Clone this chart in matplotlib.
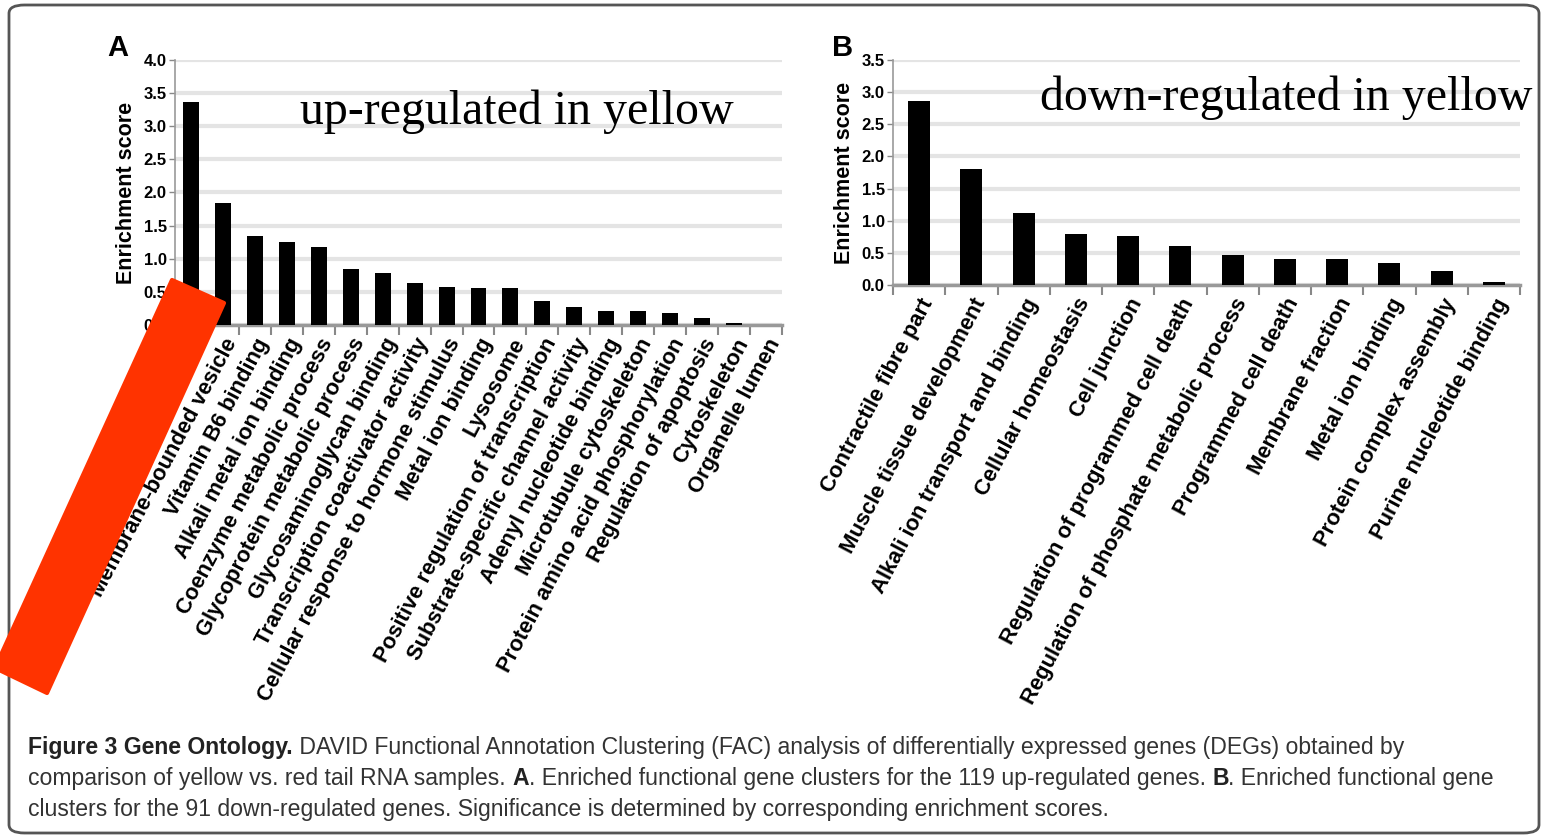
import matplotlib
matplotlib.use("Agg")
import matplotlib.pyplot as plt
import numpy as np
from matplotlib.patches import Polygon, FancyBboxPatch

# Panel A: up-regulated clusters (first label is hidden under the red mark in the source)
labels_a = ['', 'Membrane-bounded vesicle', 'Vitamin B6 binding', 'Alkali metal ion binding',
            'Coenzyme metabolic process', 'Glycoprotein metabolic process',
            'Glycosaminoglycan binding', 'Transcription coactivator activity',
            'Cellular response to hormone stimulus', 'Metal ion binding', 'Lysosome',
            'Positive regulation of transcription', 'Substrate-specific channel activity',
            'Adenyl nucleotide binding', 'Microtubule cytoskeleton',
            'Protein amino acid phosphorylation', 'Regulation of apoptosis',
            'Cytoskeleton', 'Organelle lumen']
scores_a = [3.37, 1.84, 1.35, 1.25, 1.18, 0.84, 0.79, 0.64, 0.58, 0.56, 0.56,
            0.36, 0.27, 0.21, 0.21, 0.18, 0.10, 0.035, 0.005]

# Panel B: down-regulated clusters
labels_b = ['Contractile fibre part', 'Muscle tissue development', 'Alkali ion transport and binding',
            'Cellular homeostasis', 'Cell junction', 'Regulation of programmed cell death',
            'Regulation of phosphate metabolic process', 'Programmed cell death',
            'Membrane fraction', 'Metal ion binding', 'Protein complex assembly',
            'Purine nucleotide binding']
scores_b = [2.86, 1.80, 1.12, 0.79, 0.76, 0.61, 0.46, 0.40, 0.40, 0.345, 0.22, 0.05]

W, H = 1545, 836
fig = plt.figure(figsize=(W / 100, H / 100), dpi=100)
sans = 'Liberation Sans'


def px(x, y):
    return x / W, 1 - y / H


def bar_panel(rect, labels, scores, ymax, width, label_size):
    ax = fig.add_axes(rect)
    n = len(scores)
    x = np.arange(n)
    ax.bar(x, scores, width=width, color='black', zorder=3)
    ax.set_xlim(-0.5, n - 0.5)
    ax.set_ylim(0, ymax)
    ticks = np.arange(0, ymax + 0.01, 0.5)
    ax.set_yticks(ticks)
    ax.set_yticklabels(['%.1f' % t for t in ticks], fontsize=12, fontweight='bold', family=sans)
    ax.yaxis.grid(True, color='#e4e4e4', linewidth=3, zorder=0)
    ax.set_axisbelow(True)
    ax.set_xticks(x)
    ax.set_xticklabels(labels, rotation=62, ha='right', va='top', rotation_mode='anchor',
                       fontsize=label_size, fontweight='bold', family=sans)
    ax.set_xticks(np.arange(n + 1) - 0.5, minor=True)
    ax.tick_params(axis='x', which='major', length=0, pad=7)
    ax.tick_params(axis='x', which='minor', length=7, width=1.5, color='#888888')
    ax.tick_params(axis='y', length=4, width=1, color='#888888', pad=2)
    for s in ['top', 'right']:
        ax.spines[s].set_visible(False)
    ax.spines['left'].set_color('#999999')
    ax.spines['left'].set_linewidth(1.2)
    ax.spines['bottom'].set_color('#999999')
    ax.spines['bottom'].set_linewidth(2.5)
    ax.set_ylabel('Enrichment score', fontsize=15.5, fontweight='bold', family=sans, labelpad=5)
    return ax


ax_a = bar_panel([175 / W, 1 - 325 / H, 607 / W, 265 / H], labels_a, scores_a, 4.0, 0.5, 15.8)
ax_b = bar_panel([893 / W, 1 - 285 / H, 627 / W, 225 / H], labels_b, scores_b, 3.5, 0.42, 15.8)

fig.text(*px(107, 56), 'A', fontsize=21, fontweight='bold', family=sans, va='baseline')
fig.text(*px(832, 56), 'B', fontsize=21, fontweight='bold', family=sans, va='baseline')
fig.text(*px(300, 124), 'up-regulated in yellow', fontsize=34.5, family='Liberation Serif', va='baseline')
fig.text(*px(1040, 110), 'down-regulated in yellow', fontsize=34.5, family='Liberation Serif', va='baseline')

# red mark over the first labels of panel A
red = [(172, 280), (224, 303), (47, 693), (-5, 668)]
fig.patches.append(Polygon([px(a, b) for a, b in red], closed=True, transform=fig.transFigure,
                           facecolor='#ff3300', edgecolor='#ff3300', linewidth=3,
                           joinstyle='round', zorder=10))

# frame round the whole figure
fig.patches.append(FancyBboxPatch((9 / W, 3 / H), 1 - 15 / W, 1 - 8 / H,
                                  boxstyle='round,pad=0,rounding_size=0.01',
                                  transform=fig.transFigure, facecolor='none',
                                  edgecolor='#555555', linewidth=2))

# caption with bold runs
cap_lines = [
    [('Figure 3 Gene Ontology.', 'bold'),
     (' DAVID Functional Annotation Clustering (FAC) analysis of differentially expressed genes (DEGs) obtained by', 'normal')],
    [('comparison of yellow vs. red tail RNA samples. ', 'normal'), ('A', 'bold'),
     ('. Enriched functional gene clusters for the 119 up-regulated genes. ', 'normal'), ('B', 'bold'),
     ('. Enriched functional gene', 'normal')],
    [('clusters for the 91 down-regulated genes. Significance is determined by corresponding enrichment scores.', 'normal')],
]
cap_y = [754, 785, 816]
renderer = fig.canvas.get_renderer()
for runs, y in zip(cap_lines, cap_y):
    x = 28 / W
    for txt, wt in runs:
        t = fig.text(x, 1 - y / H, txt, fontsize=16.6, fontweight=wt, family=sans,
                     color='#333333' if wt == 'normal' else '#222222', va='baseline')
        bb = t.get_window_extent(renderer=renderer)
        x = bb.x1 / W

fig.savefig('out.png', dpi=100)
